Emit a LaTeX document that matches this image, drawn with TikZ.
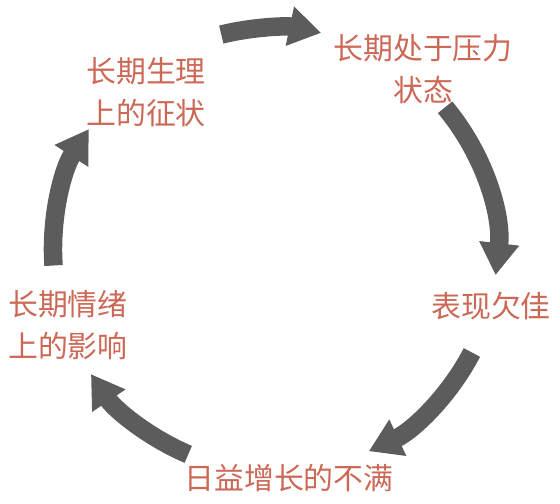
\documentclass[tikz,border=0pt]{standalone}
\usepackage{fontspec}
\newfontfamily\cjk{Noto Sans CJK SC}
\usepackage{tikz}
\usetikzlibrary{arrows.meta,calc}
\definecolor{labelred}{RGB}{204,104,86}
\definecolor{cyclegray}{RGB}{92,92,92}

\begin{document}
\begin{tikzpicture}
		
		\tikzstyle{every node}=[font=\cjk\fontsize{17}{23.5}\selectfont, text=labelred, align=center, inner sep=0pt]
		\tikzstyle{cyc}=[cyclegray, line width=0.37cm, -{Triangle[length=0.64cm, width=0.76cm]}]
		
		\useasboundingbox (0,0) rectangle (11.2,-10.06);
		%\draw[style=help lines, step=0.5, color=gray] (0,0) grid (11.2,-10.06);
		
		\coordinate (c) at (5.5,-5.0);
		\def\rad{4.44}
		
		\node (phys) at (2.92,-1.84) {长期生理\\上的征状};
		\node (stress) at (8.46,-1.38) {长期处于压力\\状态};
		\node (perf) at (9.82,-6.12) {表现欠佳};
		\node (discont) at (5.78,-9.56) {日益增长的不满};
		\node (emot) at (1.36,-6.5) {长期情绪\\上的影响};
		
		% arrows on one circle round (c)
		\draw[cyc] ($(c)+(104:\rad)$) arc[start angle=104, end angle=78, radius=\rad];
		\draw[cyc] ($(c)+(40:\rad)$) arc[start angle=40, end angle=-6.5, radius=\rad];
		\draw[cyc] ($(c)+(-27.5:\rad)$) arc[start angle=-27.5, end angle=-65, radius=\rad];
		\draw[cyc] ($(c)+(-113:\rad)$) arc[start angle=-113, end angle=-146, radius=\rad];
		\draw[cyc] ($(c)+(184:\rad)$) arc[start angle=184, end angle=147, radius=\rad];
		
		\end{tikzpicture}
\end{document}
